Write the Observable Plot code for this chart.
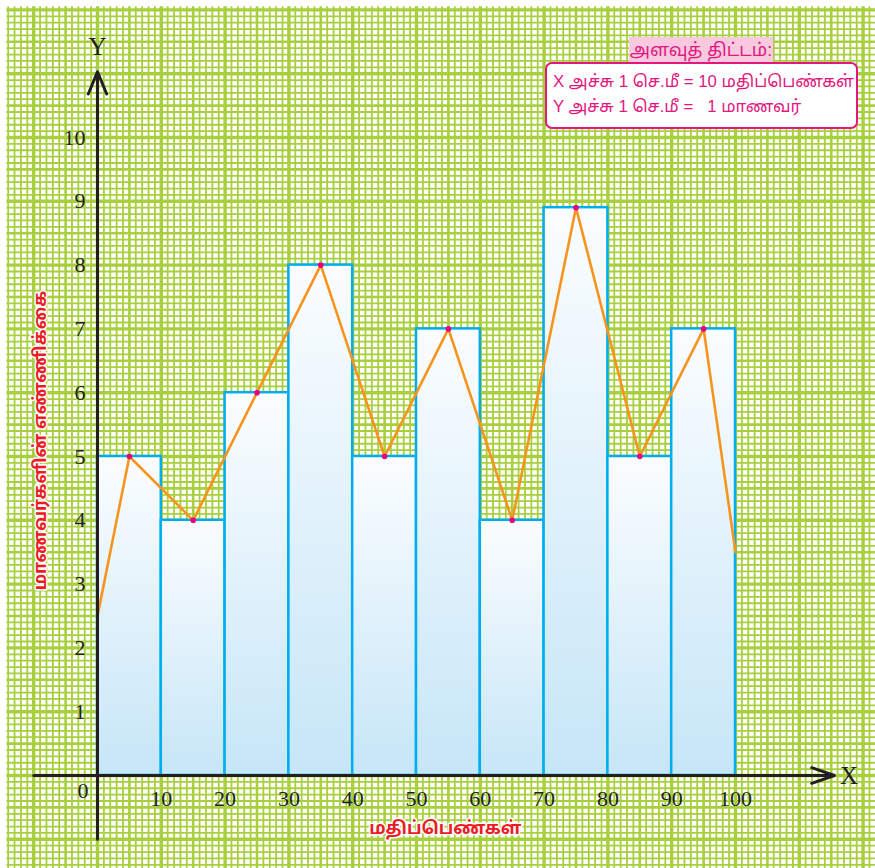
<!DOCTYPE html>
<html>
<head>
<meta charset="utf-8">
<script src="https://cdn.jsdelivr.net/npm/d3@7"></script>
<script src="https://cdn.jsdelivr.net/npm/@observablehq/plot@0.6"></script>
<style>
  html, body { margin: 0; padding: 0; background: #ffffff; }
  #wrap { position: relative; width: 875px; height: 868px; overflow: hidden; }
  #legendTitle {
    position: absolute; left: 629px; top: 37px; width: 144px; height: 26px;
    background: #f9c9df; color: #e2187f; font: 18px "Liberation Sans", "Noto Sans Tamil", sans-serif;
    text-align: center; line-height: 26px;
  }
  #legendBox {
    position: absolute; left: 545px; top: 62px; width: 313px; height: 67px;
    border: 2.5px solid #e2187f; border-radius: 7px; background: #ffffff;
    color: #e2187f; font: 16.8px "Liberation Sans", "Noto Sans Tamil", sans-serif;
    padding: 5px 0 0 6px; box-sizing: border-box; line-height: 25px;
    white-space: pre;
  }
</style>
</head>
<body>
<div id="wrap"></div>
<script>
// ---- data ----
const classStart = [0, 10, 20, 30, 40, 50, 60, 70, 80, 90];
const classEnd   = [10, 20, 30, 40, 50, 60, 70, 80, 90, 100];
const frequency  = [5, 4, 6, 8, 5, 7, 4, 8.9, 5, 7];
const polygonX   = [0, 5, 15, 25, 35, 45, 55, 65, 75, 85, 95, 100];
const polygonY   = [2.5, 5, 4, 6, 8, 5, 7, 4, 8.9, 5, 7, 3.5];
const xTicks     = [10, 20, 30, 40, 50, 60, 70, 80, 90, 100];
const yTicks     = [1, 2, 3, 4, 5, 6, 7, 8, 9, 10];
const xTitle     = "மதிப்பெண்கள்";
const yTitle     = "மாணவர்களின் எண்ணிக்கை";
const legendHeading = "அளவுத் திட்டம்:";
const legendLines = ["X அச்சு 1 செ.மீ = 10 மதிப்பெண்கள்", "Y அச்சு 1 செ.மீ =   1 மாணவர்"];

const bars = classStart.map((s, i) => ({start: s, end: classEnd[i], freq: frequency[i]}));
const poly = polygonX.map((x, i) => ({x, y: polygonY[i]}));
const mids = poly.slice(1, -1);

// graph paper (1 mm = 1 x unit / 0.1 y unit)
const gx = d3.range(-14, 123).map(k => ({v: k, kind: k % 10 === 0 ? 2 : (k % 5 === 0 ? 1 : 0)}));
const gy = d3.range(-15, 121).map(j => ({v: j / 10, kind: j % 10 === 0 ? 2 : (j % 5 === 0 ? 1 : 0)}));
const gridColor = "#a8cf3d";
const gw = [1.8, 2.6, 3.4];
const gridMarks = [];
for (const kind of [0, 1, 2]) {
  gridMarks.push(Plot.ruleX(gx.filter(d => d.kind === kind), {x: "v", y1: -1.5, y2: 12.05, stroke: gridColor, strokeWidth: gw[kind]}));
  gridMarks.push(Plot.ruleY(gy.filter(d => d.kind === kind), {y: "v", x1: -14.2, x2: 122.5, stroke: gridColor, strokeWidth: gw[kind]}));
}

const gradDefs = () => {
  const defs = document.createElementNS("http://www.w3.org/2000/svg", "defs");
  defs.innerHTML = '<linearGradient id="barGrad" x1="0" y1="0" x2="0" y2="1">' +
    '<stop offset="0" stop-color="#fbfdff"/><stop offset="1" stop-color="#c6e6f7"/></linearGradient>';
  return defs;
};

const serif = "Liberation Serif, Times New Roman, serif";
const tamil = "Noto Sans Tamil, Lohit Tamil, Liberation Sans, sans-serif";

const chart = Plot.plot({
  width: 875,
  height: 868,
  margin: 0,
  style: {background: "#ffffff", overflow: "visible"},
  x: {domain: [0, 100], range: [97, 735], axis: null},
  y: {domain: [0, 10], range: [775, 137], axis: null},
  marks: [
    gradDefs,
    ...gridMarks,
    Plot.rect(bars, {x1: "start", x2: "end", y1: 0, y2: "freq", fill: "url(#barGrad)", stroke: "#00aeef", strokeWidth: 2.5}),
    Plot.line(poly, {x: "x", y: "y", stroke: "#f7941d", strokeWidth: 2.6}),
    Plot.dot(mids, {x: "x", y: "y", r: 2.8, fill: "#e6007e", stroke: "none"}),
    Plot.arrow([{x1: -10, x2: 115.5, y1: 0, y2: 0}], {x1: "x1", x2: "x2", y1: "y1", y2: "y2", stroke: "#231f20", strokeWidth: 3, headLength: 12, headAngle: 38}),
    Plot.arrow([{x1: 0, x2: 0, y1: -1, y2: 11.03}], {x1: "x1", x2: "x2", y1: "y1", y2: "y2", stroke: "#231f20", strokeWidth: 3, headLength: 12, headAngle: 45}),
    Plot.text(yTicks, {x: -1.9, y: d => d, text: d => String(d), textAnchor: "end", fontSize: 22, fontFamily: serif, fill: "#231f20"}),
    Plot.text(xTicks, {x: d => d, y: -0.36, text: d => String(d), fontSize: 22, fontFamily: serif, fill: "#231f20"}),
    Plot.text(["0"], {x: -1.4, y: -0.25, text: d => d, textAnchor: "end", fontSize: 22, fontFamily: serif, fill: "#231f20"}),
    Plot.text(["Y"], {x: 0, y: 11.42, text: d => d, fontSize: 25, fontFamily: serif, fill: "#231f20"}),
    Plot.text(["X"], {x: 117.8, y: 0, text: d => d, fontSize: 25, fontFamily: serif, fill: "#231f20"}),
    Plot.text([xTitle], {x: 54.5, y: -0.83, text: d => d, fontSize: 17.5, fontWeight: "bold", fontFamily: tamil, fill: "#ed1c24", stroke: "#ffffff", strokeWidth: 3, paintOrder: "stroke"}),
    Plot.text([yTitle], {x: -8.9, y: 5.25, text: d => d, rotate: -90, fontSize: 17.5, fontWeight: "bold", fontFamily: tamil, fill: "#ed1c24", stroke: "#ffffff", strokeWidth: 3, paintOrder: "stroke"})
  ]
});

const wrap = document.getElementById("wrap");
wrap.appendChild(chart);
const lt = document.createElement("div");
lt.id = "legendTitle";
lt.textContent = legendHeading;
wrap.appendChild(lt);
const lb = document.createElement("div");
lb.id = "legendBox";
lb.textContent = legendLines.join("\n");
wrap.appendChild(lb);
</script>
</body>
</html>
